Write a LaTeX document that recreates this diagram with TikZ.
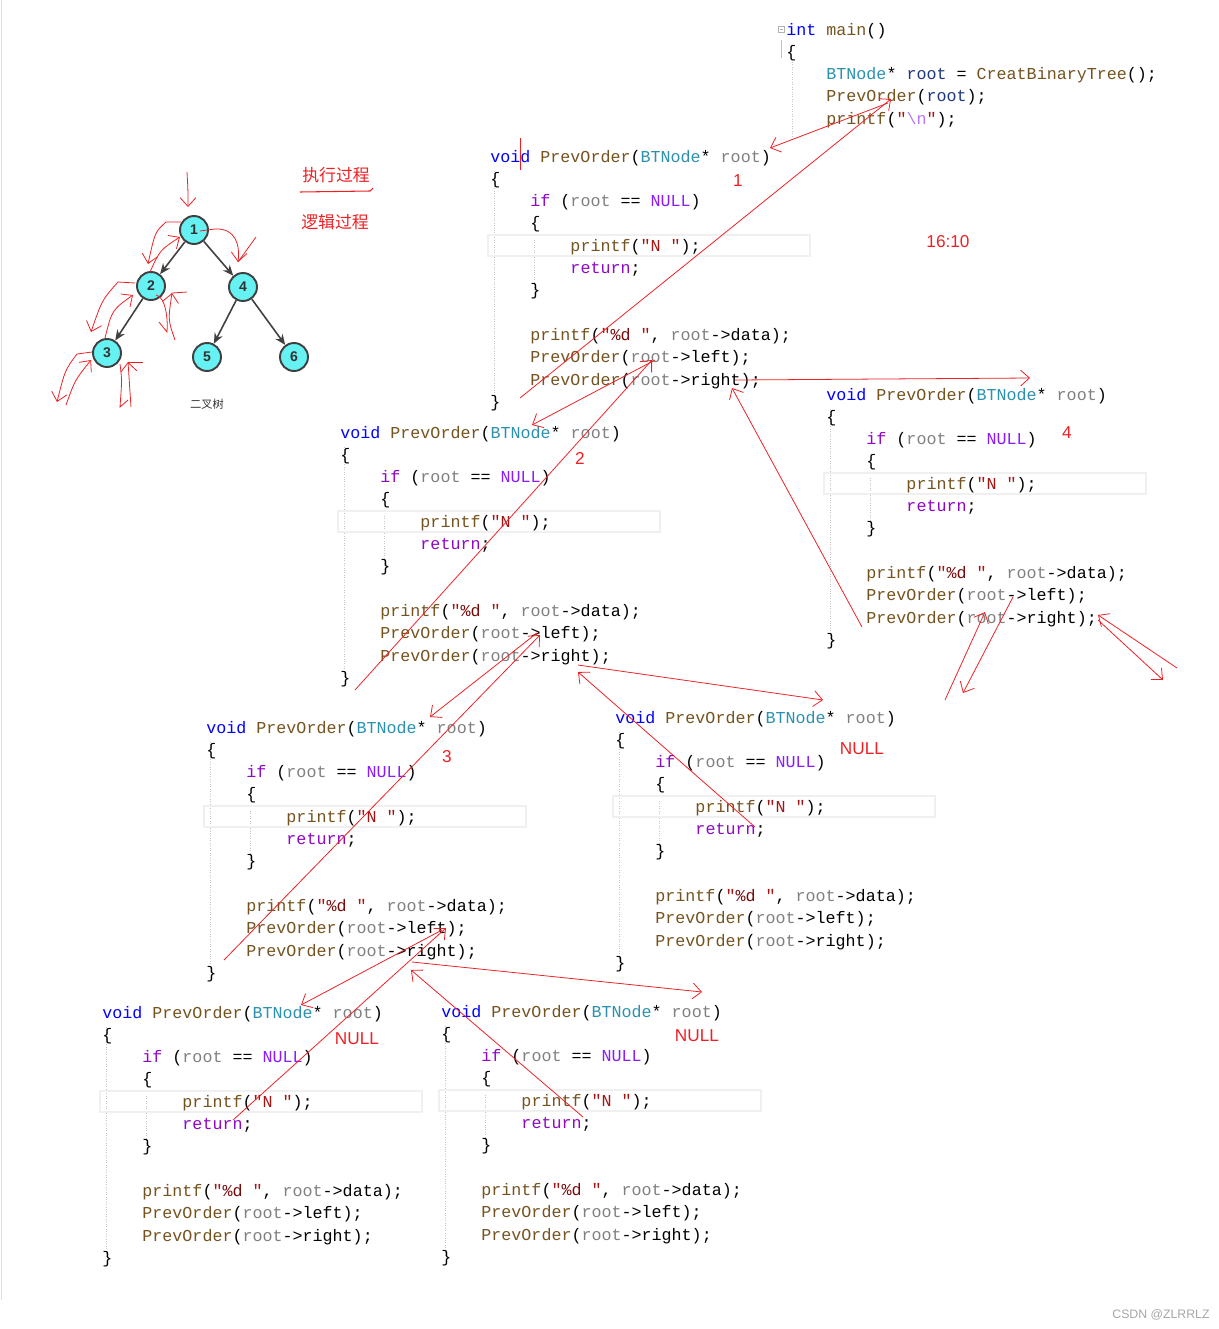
\documentclass[tikz,border=0pt]{standalone}
\usepackage{fontspec}
\setmainfont{Liberation Sans}
\setmonofont{Liberation Mono}
\newfontfamily\cjk{Noto Sans CJK SC}
\usepackage{tikz}
\usepackage{xcolor}
\usetikzlibrary{arrows.meta}
\definecolor{vsblue}{RGB}{0,0,255}
\definecolor{vsctl}{RGB}{143,8,196}
\definecolor{vsmac}{RGB}{138,27,255}
\definecolor{vstype}{RGB}{43,145,175}
\definecolor{vsfunc}{RGB}{116,83,31}
\definecolor{vsparam}{RGB}{128,128,128}
\definecolor{vslocal}{RGB}{31,55,127}
\definecolor{vsstr}{RGB}{163,21,21}
\definecolor{vsfmt}{RGB}{120,10,10}
\definecolor{vsesc}{RGB}{183,118,251}
\definecolor{inkred}{RGB}{238,32,36}
\definecolor{nodecyan}{RGB}{102,242,242}

\newcommand{\codefont}{\ttfamily\fontsize{9.5}{12.7}\selectfont}
\newcommand{\spc}{\hspace*{\fontcharwd\font`\0}}
\newcommand{\lvl}{\hspace*{4\fontcharwd\font`\0}}
\newcommand{\cKw}[1]{\textcolor{vsblue}{#1}}
\newcommand{\cCtl}[1]{\textcolor{vsctl}{#1}}
\newcommand{\cMac}[1]{\textcolor{vsmac}{#1}}
\newcommand{\cTy}[1]{\textcolor{vstype}{#1}}
\newcommand{\cFn}[1]{\textcolor{vsfunc}{#1}}
\newcommand{\cPa}[1]{\textcolor{vsparam}{#1}}
\newcommand{\cLv}[1]{\textcolor{vslocal}{#1}}
\newcommand{\cSt}[1]{\textcolor{vsstr}{#1}}

% one copy of the recursive function
\newcommand{\prevbody}{%
\cKw{void}\spc\cFn{PrevOrder}(\cTy{BTNode}*\spc\cPa{root})\\
\{\\
\lvl\cCtl{if}\spc(\cPa{root}\spc==\spc\cMac{NULL})\\
\lvl\{\\
\lvl\lvl\cFn{printf}(\cSt{"N\spc"});\\
\lvl\lvl\cCtl{return};\\
\lvl\}\\
\mbox{}\\
\lvl\cFn{printf}(\cSt{"\textcolor{vsfmt}{\%d}\spc"},\spc\cPa{root}->data);\\
\lvl\cFn{PrevOrder}(\cPa{root}->left);\\
\lvl\cFn{PrevOrder}(\cPa{root}->right);\\
\}}

\newcommand{\funcblock}[3]{%
  \begin{scope}[shift={(#2,#3)}]
    \draw[guide](4,9)--(4,240);
    \draw[guide](44,78)--(44,128);
    \draw[hlbox](-2,73)rectangle(320,94);
    \node[code](#1) at (0,0) {\prevbody};
  \end{scope}}

\begin{document}
\begin{tikzpicture}[x=0.02cm,y=-0.02cm,
    code/.style={anchor=base west,inner sep=0pt,text width=8cm,align=left,font=\codefont},
    guide/.style={draw=gray!45,densely dotted,line width=0.4pt},
    hlbox/.style={draw=gray!12,line width=0.9pt},
    tnode/.style={circle,draw=black!75,line width=1.1pt,fill=nodecyan,
                  minimum size=0.56cm,inner sep=0pt,text=black!80,
                  font=\bfseries\fontsize{8}{9}\selectfont},
    tedge/.style={draw=black!75,line width=0.9pt,-{Stealth[length=6pt,width=5pt]}},
    ink/.style={draw=inkred,line width=0.45pt},
    inkarr/.style={ink,-{Straight Barb[length=5pt,width=9pt]}},
    mk/.style={text=inkred,inner sep=0pt,font=\fontsize{9.8}{11}\selectfont},
    cjkmk/.style={text=inkred,inner sep=0pt,font=\cjk\fontsize{9.6}{11}\selectfont}]
  \useasboundingbox(0,0)rectangle(1218,1329);
  \draw[gray!25,line width=0.5pt](1,0)--(1,1300);

  % main()
  \draw[gray!60,line width=0.4pt](778,26)rectangle(784,32);
  \draw[gray!60,line width=0.4pt](779.5,29)--(782.5,29);
  \draw[gray!50,line width=0.5pt](781,40)--(781,58);
  \draw[guide](792,62)--(792,137);
  \node[code](main) at (786,35) {%
    \cKw{int}\spc\cFn{main}()\\
    \{\\
    \lvl\cTy{BTNode}*\spc\cLv{root}\spc=\spc\cFn{CreatBinaryTree}();\\
    \lvl\cFn{PrevOrder}(\cLv{root});\\
    \lvl\cFn{printf}(\cSt{"\textcolor{vsesc}{\textbackslash n}"});};

  % the call frames
  \funcblock{b1}{490}{162}
  \funcblock{b2}{340}{438}
  \funcblock{b4}{826}{400}
  \funcblock{b3}{206}{733}
  \funcblock{n1}{615}{723}
  \funcblock{n2}{102}{1018}
  \funcblock{n3}{441}{1017}

  % binary tree
  \node[tnode](t1) at (194,230) {1};
  \node[tnode](t2) at (151,286) {2};
  \node[tnode](t4) at (243,287) {4};
  \node[tnode](t3) at (107,353) {3};
  \node[tnode](t5) at (207,357) {5};
  \node[tnode](t6) at (294,357) {6};
  \draw[tedge](t1)--(t2);
  \draw[tedge](t1)--(t4);
  \draw[tedge](t2)--(t3);
  \draw[tedge](t4)--(t5);
  \draw[tedge](t4)--(t6);
  \node[text=black!80,font=\cjk\fontsize{6.4}{7}\selectfont](cap) at (207,404) {二叉树};

  % red notes
  \node[cjkmk](run) at (336,175) {执行过程};
  \node[cjkmk](logic) at (335,222) {逻辑过程};
  \draw[ink,line width=0.6pt](300,192)--(370,191)--(373,188);
  \node[mk](l1) at (738,181) {1};
  \node[mk](time) at (948,242) {16:10};
  \node[mk](l2) at (580,458) {2};
  \node[mk](l4) at (1067,433) {4};
  \node[mk](l3) at (447,757) {3};
  \node[mk](null1) at (862,749) {NULL};
  \node[mk](null2) at (357,1039) {NULL};
  \node[mk](null3) at (697,1036) {NULL};
  \node[text=gray!70,font=\fontsize{7}{8}\selectfont](wm) at (1161,1315) {CSDN @ZLRRLZ};

  % scribbles on the tree
  \draw[inkarr](187,172)..controls(188,190)..(188,207);
  \draw[inkarr](181,222)--(166,222)..controls(155,232)..(148,264);
  \draw[inkarr](150,272)..controls(160,250)..(180,237);
  \draw[inkarr](200,231)--(215,229)..controls(236,228)and(240,245)..(238,262);
  \draw[ink](238,262)--(256,237);
  \draw[inkarr](135,283)--(118,282)..controls(102,300)..(91,332);
  \draw[inkarr](105,338)..controls(112,310)..(133,295);
  \draw[ink](156,295)..controls(166,297)and(168,320)..(167,332)--(159,322);
  \draw[inkarr](175,340)..controls(168,320)..(172,293);
  \draw[ink](172,293)--(187,292);
  \draw[inkarr](92,352)--(77,354)..controls(65,370)..(57,402);
  \draw[inkarr](66,405)..controls(75,380)..(91,360);
  \draw[ink](120,364)..controls(122,380)..(120,407)--(128,400);
  \draw[inkarr](131,407)..controls(130,385)..(128,362);
  \draw[ink](128,362)--(143,362);

  % calls and returns
  \draw[ink]([shift={(30,-24)}]b1.base west)--([shift={(30,8)}]b1.base west);
  \draw[inkarr]([shift={(102,68)}]main.base west)--([shift={(280,-14)}]b1.base west);
  \draw[inkarr]([shift={(30,236)}]b1.base west)--([shift={(105,64)}]main.base west);
  \draw[inkarr]([shift={(165,198)}]b1.base west)--([shift={(192,-13)}]b2.base west);
  \draw[inkarr]([shift={(15,252)}]b2.base west)--([shift={(162,198)}]b1.base west);
  \draw[inkarr]([shift={(245,218)}]b1.base west)--([shift={(204,-22)}]b4.base west);
  \draw[inkarr]([shift={(36,227)}]b4.base west)--([shift={(242,226)}]b1.base west);
  \draw[inkarr]([shift={(187,197)}]b4.base west)--([shift={(137,293)}]b4.base west);
  \draw[inkarr]([shift={(119,300)}]b4.base west)--([shift={(159,212)}]b4.base west);
  \draw[inkarr]([shift={(272,220)}]b4.base west)--([shift={(337,280)}]b4.base west);
  \draw[inkarr]([shift={(351,268)}]b4.base west)--([shift={(272,215)}]b4.base west);
  \draw[inkarr]([shift={(197,195)}]b2.base west)--([shift={(224,-16)}]b3.base west);
  \draw[inkarr]([shift={(18,227)}]b3.base west)--([shift={(200,197)}]b2.base west);
  \draw[inkarr]([shift={(238,227)}]b2.base west)--([shift={(208,-23)}]n1.base west);
  \draw[inkarr]([shift={(140,104)}]n1.base west)--([shift={(238,234)}]b2.base west);
  \draw[inkarr]([shift={(236,197)}]b3.base west)--([shift={(199,-13)}]n2.base west);
  \draw[inkarr]([shift={(131,102)}]n2.base west)--([shift={(240,195)}]b3.base west);
  \draw[inkarr]([shift={(206,229)}]b3.base west)--([shift={(261,-25)}]n3.base west);
  \draw[inkarr]([shift={(142,100)}]n3.base west)--([shift={(205,237)}]b3.base west);
\end{tikzpicture}
\end{document}
